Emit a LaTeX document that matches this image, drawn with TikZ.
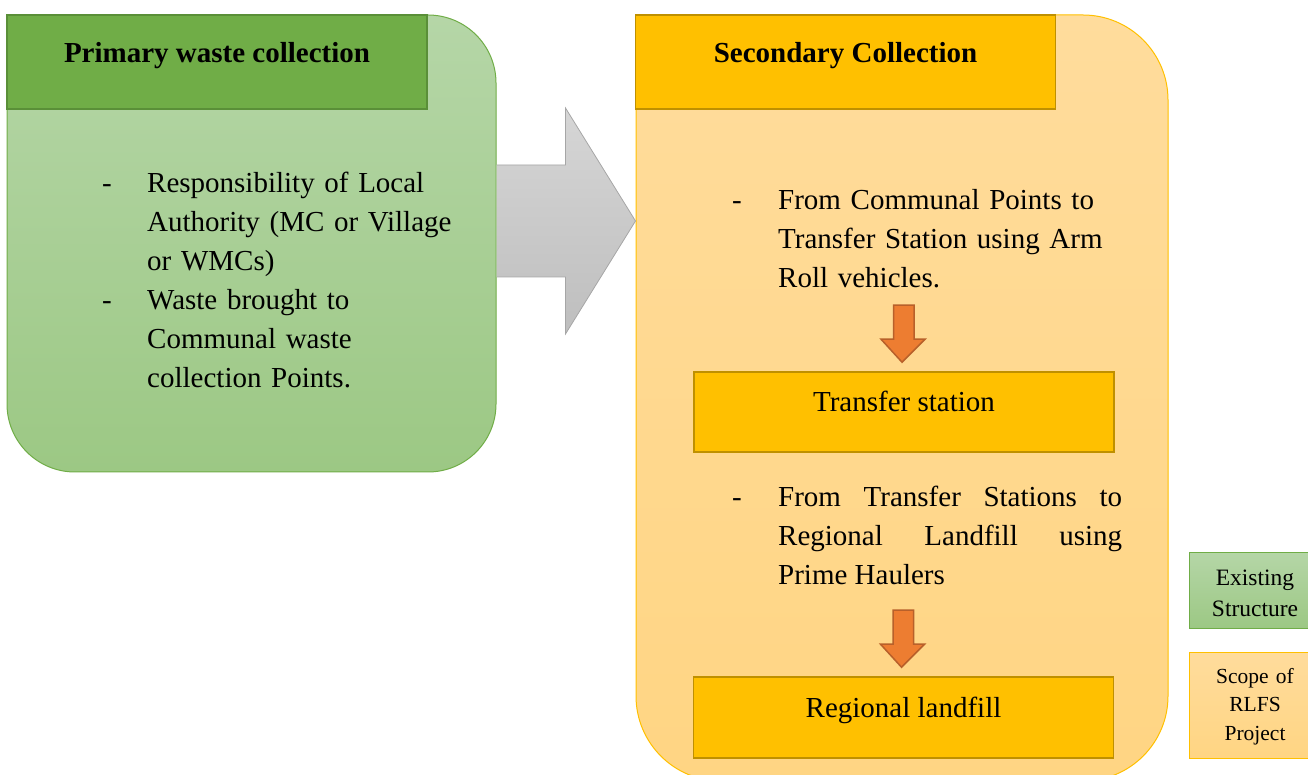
\documentclass[tikz,border=0pt]{standalone}
\usepackage{fontspec}
\setmainfont{Liberation Serif}
\usetikzlibrary{calc}

\definecolor{grnTop}{HTML}{B5D6A7}
\definecolor{grnBot}{HTML}{9CC884}
\definecolor{grnEdge}{HTML}{70AD47}
\definecolor{grnHead}{HTML}{70AD47}
\definecolor{grnHeadEdge}{HTML}{5A8F38}
\definecolor{ylwTop}{HTML}{FFDC9C}
\definecolor{ylwBot}{HTML}{FFD583}
\definecolor{ylwEdge}{HTML}{FFC000}
\definecolor{ylwHead}{HTML}{FFC000}
\definecolor{ylwHeadEdge}{HTML}{BF9000}
\definecolor{greyTop}{HTML}{D6D6D6}
\definecolor{greyBot}{HTML}{BEBEBE}
\definecolor{greyEdge}{HTML}{A6A6A6}
\definecolor{orgFill}{HTML}{ED7D31}
\definecolor{orgEdge}{HTML}{B8602A}

\tikzset{
  panelbox/.style={rectangle, inner sep=0pt, line width=1pt},
  greenpanel/.style={panelbox, draw=grnEdge, top color=grnTop, bottom color=grnBot, rounded corners=68pt},
  yellowpanel/.style={panelbox, draw=ylwEdge, top color=ylwTop, bottom color=ylwBot, rounded corners=85pt},
  headbox/.style={rectangle, inner sep=0pt, line width=1.6pt, minimum width=420pt, minimum height=94pt,
    text height=20pt, text depth=18pt, font=\fontsize{29}{38.8}\selectfont\bfseries},
  greenhead/.style={headbox, fill=grnHead, draw=grnHeadEdge},
  yellowhead/.style={headbox, fill=ylwHead, draw=ylwHeadEdge},
  stagebox/.style={rectangle, inner sep=0pt, line width=1.6pt, fill=ylwHead, draw=ylwHeadEdge,
    minimum width=420pt, minimum height=80pt, text height=20pt, text depth=20pt,
    font=\fontsize{29}{38.8}\selectfont},
  bodytext/.style={inner sep=0pt, font=\fontsize{29}{38.8}\selectfont},
  bullettext/.style={bodytext, anchor=base west, text width=#1},
  dashmark/.style={bodytext, anchor=base west},
  legendbox/.style={rectangle, inner sep=0pt, line width=1pt, minimum width=131pt},
  legendtext/.style={inner sep=0pt, anchor=base, text width=120pt, align=center},
  bigarrow/.style={top color=greyTop, bottom color=greyBot},
  bigarrowedge/.style={draw=greyEdge, line width=0.8pt, line join=miter},
  flowarrow/.style={draw=orgEdge, line width=1.5pt, fill=orgFill, line join=miter},
}

% downward block arrow ending just above the named box
\newcommand\downblock[1]{%
  \draw[flowarrow] ($(#1.north)+(-10.5,66)$) -- ($(#1.north)+(-10.5,32)$)
    -- ($(#1.north)+(-23,32)$) -- ($(#1.north)+(-2,9)$)
    -- ($(#1.north)+(21,32)$) -- ($(#1.north)+(10,32)$)
    -- ($(#1.north)+(10,66)$) -- cycle;}

\begin{document}
\begin{tikzpicture}[x=1pt, y=1pt]
\useasboundingbox (0,0) rectangle (1308,774);

% panels (positions in pt, origin bottom left)
\node[greenpanel, minimum width=489pt, minimum height=457pt] (prim) at (251.5,530.5) {};
\node[yellowpanel, minimum width=532pt, minimum height=766pt] (sec) at (902,376) {};

% grey block arrow from the primary panel to the secondary panel
\coordinate (gtail) at (prim.east |- 0,553);
\coordinate (gtip) at (sec.west |- 0,553);
\path[bigarrow] ($(gtail)+(0,56)$) -- ($(gtip)+(-70,56)$) -- ($(gtip)+(-70,113)$)
  -- (gtip) -- ($(gtip)+(-70,-113)$) -- ($(gtip)+(-70,-56)$) -- ($(gtail)+(0,-56)$) -- cycle;
\draw[bigarrowedge] ($(gtail)+(0,56)$) -- ($(gtip)+(-70,56)$) -- ($(gtip)+(-70,113)$)
  -- (gtip) -- ($(gtip)+(-70,-113)$) -- ($(gtip)+(-70,-56)$) -- ($(gtail)+(0,-56)$);

% headers
\node[greenhead] (h1) at (217,712) {Primary waste collection};
\node[yellowhead] (h2) at (845.5,712) {Secondary Collection};

% primary panel bullets
\node[dashmark] (d1) at (102,581) {-};
\node[bullettext=320pt, align=left] (b1) at (147,581)
  {Responsibility of Local\\Authority (MC or Village\\or WMCs)};
\node[dashmark] (d2) at (102,464) {-};
\node[bullettext=320pt, align=left] (b2) at (147,464)
  {Waste brought to\\Communal waste\\collection Points.};

% secondary panel content
\node[dashmark] (d3) at (732,564) {-};
\node[bullettext=344pt, align=left] (b3) at (778,564)
  {From Communal Points to\\Transfer Station using Arm\\Roll vehicles.};

\node[stagebox] (ts) at (904,362) {Transfer station};

\node[dashmark] (d4) at (732,267) {-};
\node[bullettext=344pt, align=justify] (b4) at (778,267)
  {From Transfer Stations to\linebreak Regional Landfill using\linebreak Prime Haulers};

\node[stagebox, minimum height=81pt] (rl) at (903.5,56.5) {Regional landfill};

\downblock{ts}
\downblock{rl}

% legend
\node[legendbox, minimum height=76pt, draw=grnEdge, top color=grnTop, bottom color=grnBot] (lg1) at (1254.5,184) {};
\node[legendtext, font=\fontsize{23.5}{31}\selectfont] (lt1) at (1255,189) {Existing\\Structure};
\node[legendbox, minimum height=106pt, draw=ylwEdge, top color=ylwTop, bottom color=ylwBot] (lg2) at (1254.5,69) {};
\node[legendtext, font=\fontsize{21.5}{28.5}\selectfont] (lt2) at (1255,91) {Scope of\\RLFS\\Project};
\end{tikzpicture}
\end{document}
